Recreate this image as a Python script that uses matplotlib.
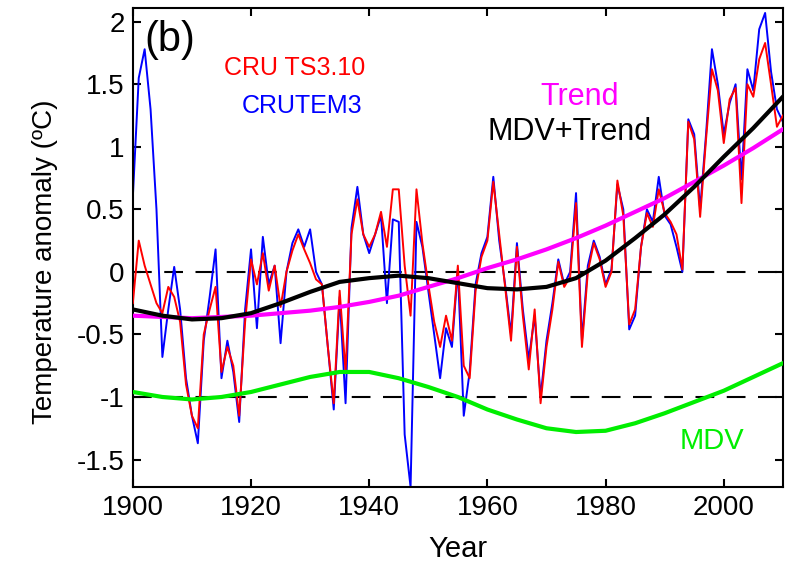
import matplotlib
matplotlib.use('Agg')
import matplotlib.pyplot as plt
import numpy as np

plt.rcParams['font.family'] = ['Liberation Sans', 'DejaVu Sans']

years = np.arange(1900, 2011)

# annual anomalies
cru_ts = [-0.25, 0.25, 0.05, -0.10, -0.25, -0.33, -0.12, -0.20, -0.40, -0.90,
          -1.15, -1.25, -0.50, -0.30, -0.12, -0.80, -0.60, -0.75, -1.15, -0.40,
          0.10, -0.10, 0.15, -0.15, 0.05, -0.28, 0.00, 0.17, 0.30, 0.18,
          0.07, -0.06, -0.10, -0.60, -1.05, -0.15, -0.80, 0.30, 0.58, 0.30,
          0.20, 0.30, 0.48, 0.20, 0.66, 0.66, 0.05, -0.35, 0.66, 0.23,
          -0.10, -0.40, -0.60, -0.35, -0.55, 0.05, -0.75, -0.85, -0.15, 0.12,
          0.25, 0.72, 0.30, -0.12, -0.55, 0.20, -0.35, -0.78, -0.30, -1.05,
          -0.60, -0.30, 0.08, -0.12, -0.04, 0.55, -0.60, 0.00, 0.23, 0.10,
          -0.12, 0.00, 0.73, 0.45, -0.42, -0.30, 0.20, 0.47, 0.36, 0.66,
          0.47, 0.40, 0.30, 0.02, 1.20, 1.06, 0.44, 1.06, 1.62, 1.45,
          1.03, 1.38, 1.47, 0.55, 1.50, 1.40, 1.70, 1.83, 1.50, 1.16,
          1.25]

crutem3 = [0.60, 1.55, 1.78, 1.30, 0.50, -0.68, -0.30, 0.04, -0.30, -0.85,
           -1.15, -1.37, -0.55, -0.20, 0.18, -0.85, -0.55, -0.80, -1.20, -0.30,
           0.18, -0.45, 0.28, -0.10, 0.05, -0.57, 0.00, 0.23, 0.34, 0.20,
           0.34, 0.00, -0.10, -0.60, -1.10, -0.20, -1.05, 0.35, 0.68, 0.30,
           0.15, 0.30, 0.45, -0.25, 0.42, 0.40, -1.30, -1.72, 0.40, 0.20,
           -0.15, -0.50, -0.85, -0.45, -0.60, 0.02, -1.15, -0.80, -0.10, 0.15,
           0.28, 0.76, 0.25, -0.10, -0.50, 0.23, -0.30, -0.70, -0.35, -1.00,
           -0.55, -0.25, 0.10, -0.10, 0.00, 0.63, -0.55, 0.05, 0.25, 0.12,
           -0.10, 0.02, 0.70, 0.50, -0.46, -0.35, 0.20, 0.50, 0.40, 0.76,
           0.45, 0.38, 0.20, 0.00, 1.22, 1.10, 0.50, 1.10, 1.78, 1.50,
           1.10, 1.35, 1.50, 0.74, 1.62, 1.45, 1.94, 2.07, 1.60, 1.30,
           1.20]

# smooth components, every 5 years
yrs5 = np.arange(1900, 2011, 5)
trend = [-0.35, -0.36, -0.37, -0.36, -0.35, -0.33, -0.31, -0.28, -0.24, -0.19,
         -0.12, -0.05, 0.03, 0.10, 0.18, 0.27, 0.37, 0.48, 0.59, 0.72,
         0.85, 0.99, 1.14]
mdv_trend = [-0.30, -0.35, -0.38, -0.37, -0.33, -0.25, -0.16, -0.08, -0.05, -0.03,
             -0.05, -0.09, -0.13, -0.14, -0.12, -0.05, 0.09, 0.27, 0.46, 0.68,
             0.92, 1.15, 1.40]
mdv = [-0.96, -1.00, -1.02, -1.00, -0.96, -0.90, -0.84, -0.80, -0.80, -0.85,
       -0.92, -1.00, -1.10, -1.18, -1.25, -1.28, -1.27, -1.21, -1.13, -1.04,
       -0.95, -0.84, -0.73]

fig = plt.figure(figsize=(7.86, 5.67), dpi=100)
ax = fig.add_axes([0.169, 0.141, 0.827, 0.845])

ax.axhline(0, color='black', lw=1.5, ls=(0, (9, 6)), zorder=1)
ax.axhline(-1, color='black', lw=1.5, ls=(0, (9, 6)), zorder=1)

ax.plot(years, crutem3, color='#0000ff', lw=1.4, zorder=2)
ax.plot(years, cru_ts, color='#ff0000', lw=1.4, zorder=3)
ax.plot(yrs5, trend, color='#ff00ff', lw=3, zorder=4)
ax.plot(yrs5, mdv_trend, color='black', lw=3, zorder=5)
ax.plot(yrs5, mdv, color='#00ee00', lw=3, zorder=4)

ax.set_xlim(1900, 2010)
ax.set_ylim(-1.72, 2.11)
ax.set_xticks([1900, 1920, 1940, 1960, 1980, 2000])
ax.set_yticks([-1.5, -1, -0.5, 0, 0.5, 1, 1.5, 2])
ax.set_yticklabels(['-1.5', '-1', '-0.5', '0', '0.5', '1', '1.5', '2'])
ax.tick_params(direction='in', top=True, right=True, length=6, width=1.5,
               labelsize=20, pad=6)
for s in ax.spines.values():
    s.set_linewidth(1.5)

ax.set_xlabel('Year', fontsize=21, labelpad=10)
ax.set_ylabel('Temperature anomaly (ºC)', fontsize=20, labelpad=14)
ax.yaxis.set_label_coords(-0.115, 0.47)

ax.text(1902.0, 1.85, '(b)', fontsize=30, va='center')
ax.text(1915.5, 1.63, 'CRU TS3.10', color='#ff0000', fontsize=18, va='center')
ax.text(1918.5, 1.33, 'CRUTEM3', color='#0000ff', fontsize=18, va='center')
ax.text(1969.0, 1.40, 'Trend', color='#ff00ff', fontsize=22, va='center')
ax.text(1960.0, 1.12, 'MDV+Trend', color='black', fontsize=22, va='center')
ax.text(1992.5, -1.35, 'MDV', color='#00ee00', fontsize=21, va='center')

fig.savefig('out.png', dpi=100)
